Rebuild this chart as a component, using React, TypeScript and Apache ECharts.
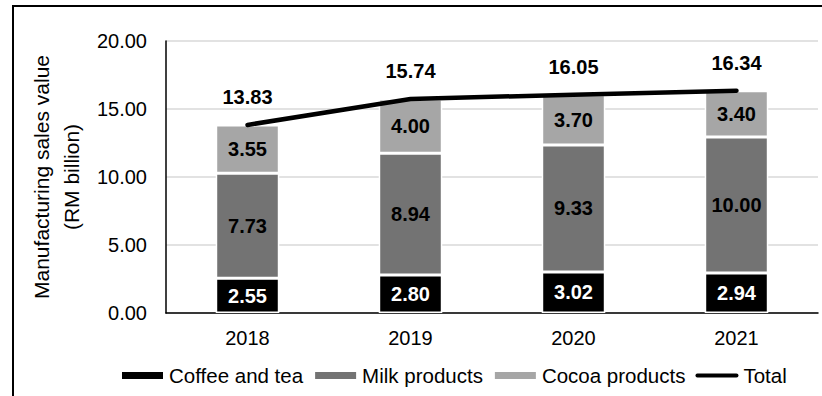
import React, { useEffect, useRef } from "react";
import * as echarts from "echarts";

const years = ["2018", "2019", "2020", "2021"];
const coffeeTea = [2.55, 2.8, 3.02, 2.94];
const milkProducts = [7.73, 8.94, 9.33, 10.0];
const cocoaProducts = [3.55, 4.0, 3.7, 3.4];
const totals = [13.83, 15.74, 16.05, 16.34];

const FONT = "'Liberation Sans', Arial, sans-serif";

const fmt = (p: any) => Number(p.value).toFixed(2);

// thick line with rounded ends for the "Total" legend entry
const TOTAL_ICON = "path://M2.2,0 H46.8 A2.2,2.2 0 0 1 46.8,4.4 H2.2 A2.2,2.2 0 0 1 2.2,0 Z";

export default function App() {
  const ref = useRef<HTMLDivElement>(null);

  useEffect(() => {
    if (!ref.current) return;
    const chart = echarts.init(ref.current, undefined, { renderer: "svg" });

    const barSeries = (name: string, data: number[], color: string, labelColor: string) => ({
      name,
      type: "bar",
      stack: "sales",
      data,
      barWidth: "39%",
      itemStyle: { color, borderColor: "#ffffff", borderWidth: 1.5 },
      label: {
        show: true,
        position: "inside",
        formatter: fmt,
        color: labelColor,
        fontSize: 20,
        fontWeight: "bold",
        fontFamily: FONT,
      },
    });

    chart.setOption({
      animation: false,
      backgroundColor: "#ffffff",
      textStyle: { fontFamily: FONT },
      grid: { left: 166, right: 4, top: 41, bottom: 83 },
      legend: {
        left: 120,
        top: 365,
        padding: 0,
        itemWidth: 43,
        itemHeight: 9,
        itemGap: 10,
        textStyle: { fontSize: 20.5, color: "#000", fontFamily: FONT },
        data: [
          { name: "Coffee and tea", icon: "rect" },
          { name: "Milk products", icon: "rect" },
          { name: "Cocoa products", icon: "rect" },
          { name: "Total", icon: TOTAL_ICON, itemStyle: { color: "#000" } },
        ],
      },
      xAxis: {
        type: "category",
        data: years,
        axisTick: { show: false },
        axisLine: { lineStyle: { color: "#000", width: 1.5 } },
        axisLabel: { fontSize: 20, color: "#000", margin: 15, fontFamily: FONT },
      },
      yAxis: {
        type: "value",
        min: 0,
        max: 20,
        interval: 5,
        name: "Manufacturing sales value\n(RM billion)",
        nameLocation: "middle",
        nameGap: 69,
        nameTextStyle: { fontSize: 21, color: "#000", lineHeight: 30, fontFamily: FONT },
        axisLine: { show: true, lineStyle: { color: "#000", width: 1.5 } },
        axisTick: { show: false },
        axisLabel: {
          fontSize: 20,
          color: "#000",
          margin: 19,
          fontFamily: FONT,
          formatter: (v: number) => v.toFixed(2),
        },
        splitLine: { lineStyle: { color: "#d9d9d9", width: 1.5 } },
      },
      graphic: [
        { type: "line", shape: { x1: 12, y1: 6, x2: 822, y2: 6 }, style: { stroke: "#000", lineWidth: 2 } },
        { type: "line", shape: { x1: 13, y1: 6, x2: 13, y2: 396 }, style: { stroke: "#000", lineWidth: 2 } },
      ],
      series: [
        barSeries("Coffee and tea", coffeeTea, "#000000", "#ffffff"),
        barSeries("Milk products", milkProducts, "#737373", "#000000"),
        barSeries("Cocoa products", cocoaProducts, "#a6a6a6", "#000000"),
        {
          name: "Total",
          type: "line",
          data: totals,
          symbol: "circle",
          symbolSize: 1,
          showSymbol: true,
          itemStyle: { color: "#000" },
          lineStyle: { color: "#000", width: 4.5, cap: "round" },
          label: {
            show: true,
            position: "top",
            distance: 17,
            formatter: fmt,
            color: "#000",
            fontSize: 20,
            fontWeight: "bold",
            fontFamily: FONT,
          },
          z: 5,
        },
      ],
    });

    return () => chart.dispose();
  }, []);

  return <div ref={ref} style={{ width: 822, height: 396, position: "absolute", left: 0, top: 0 }} />;
}
